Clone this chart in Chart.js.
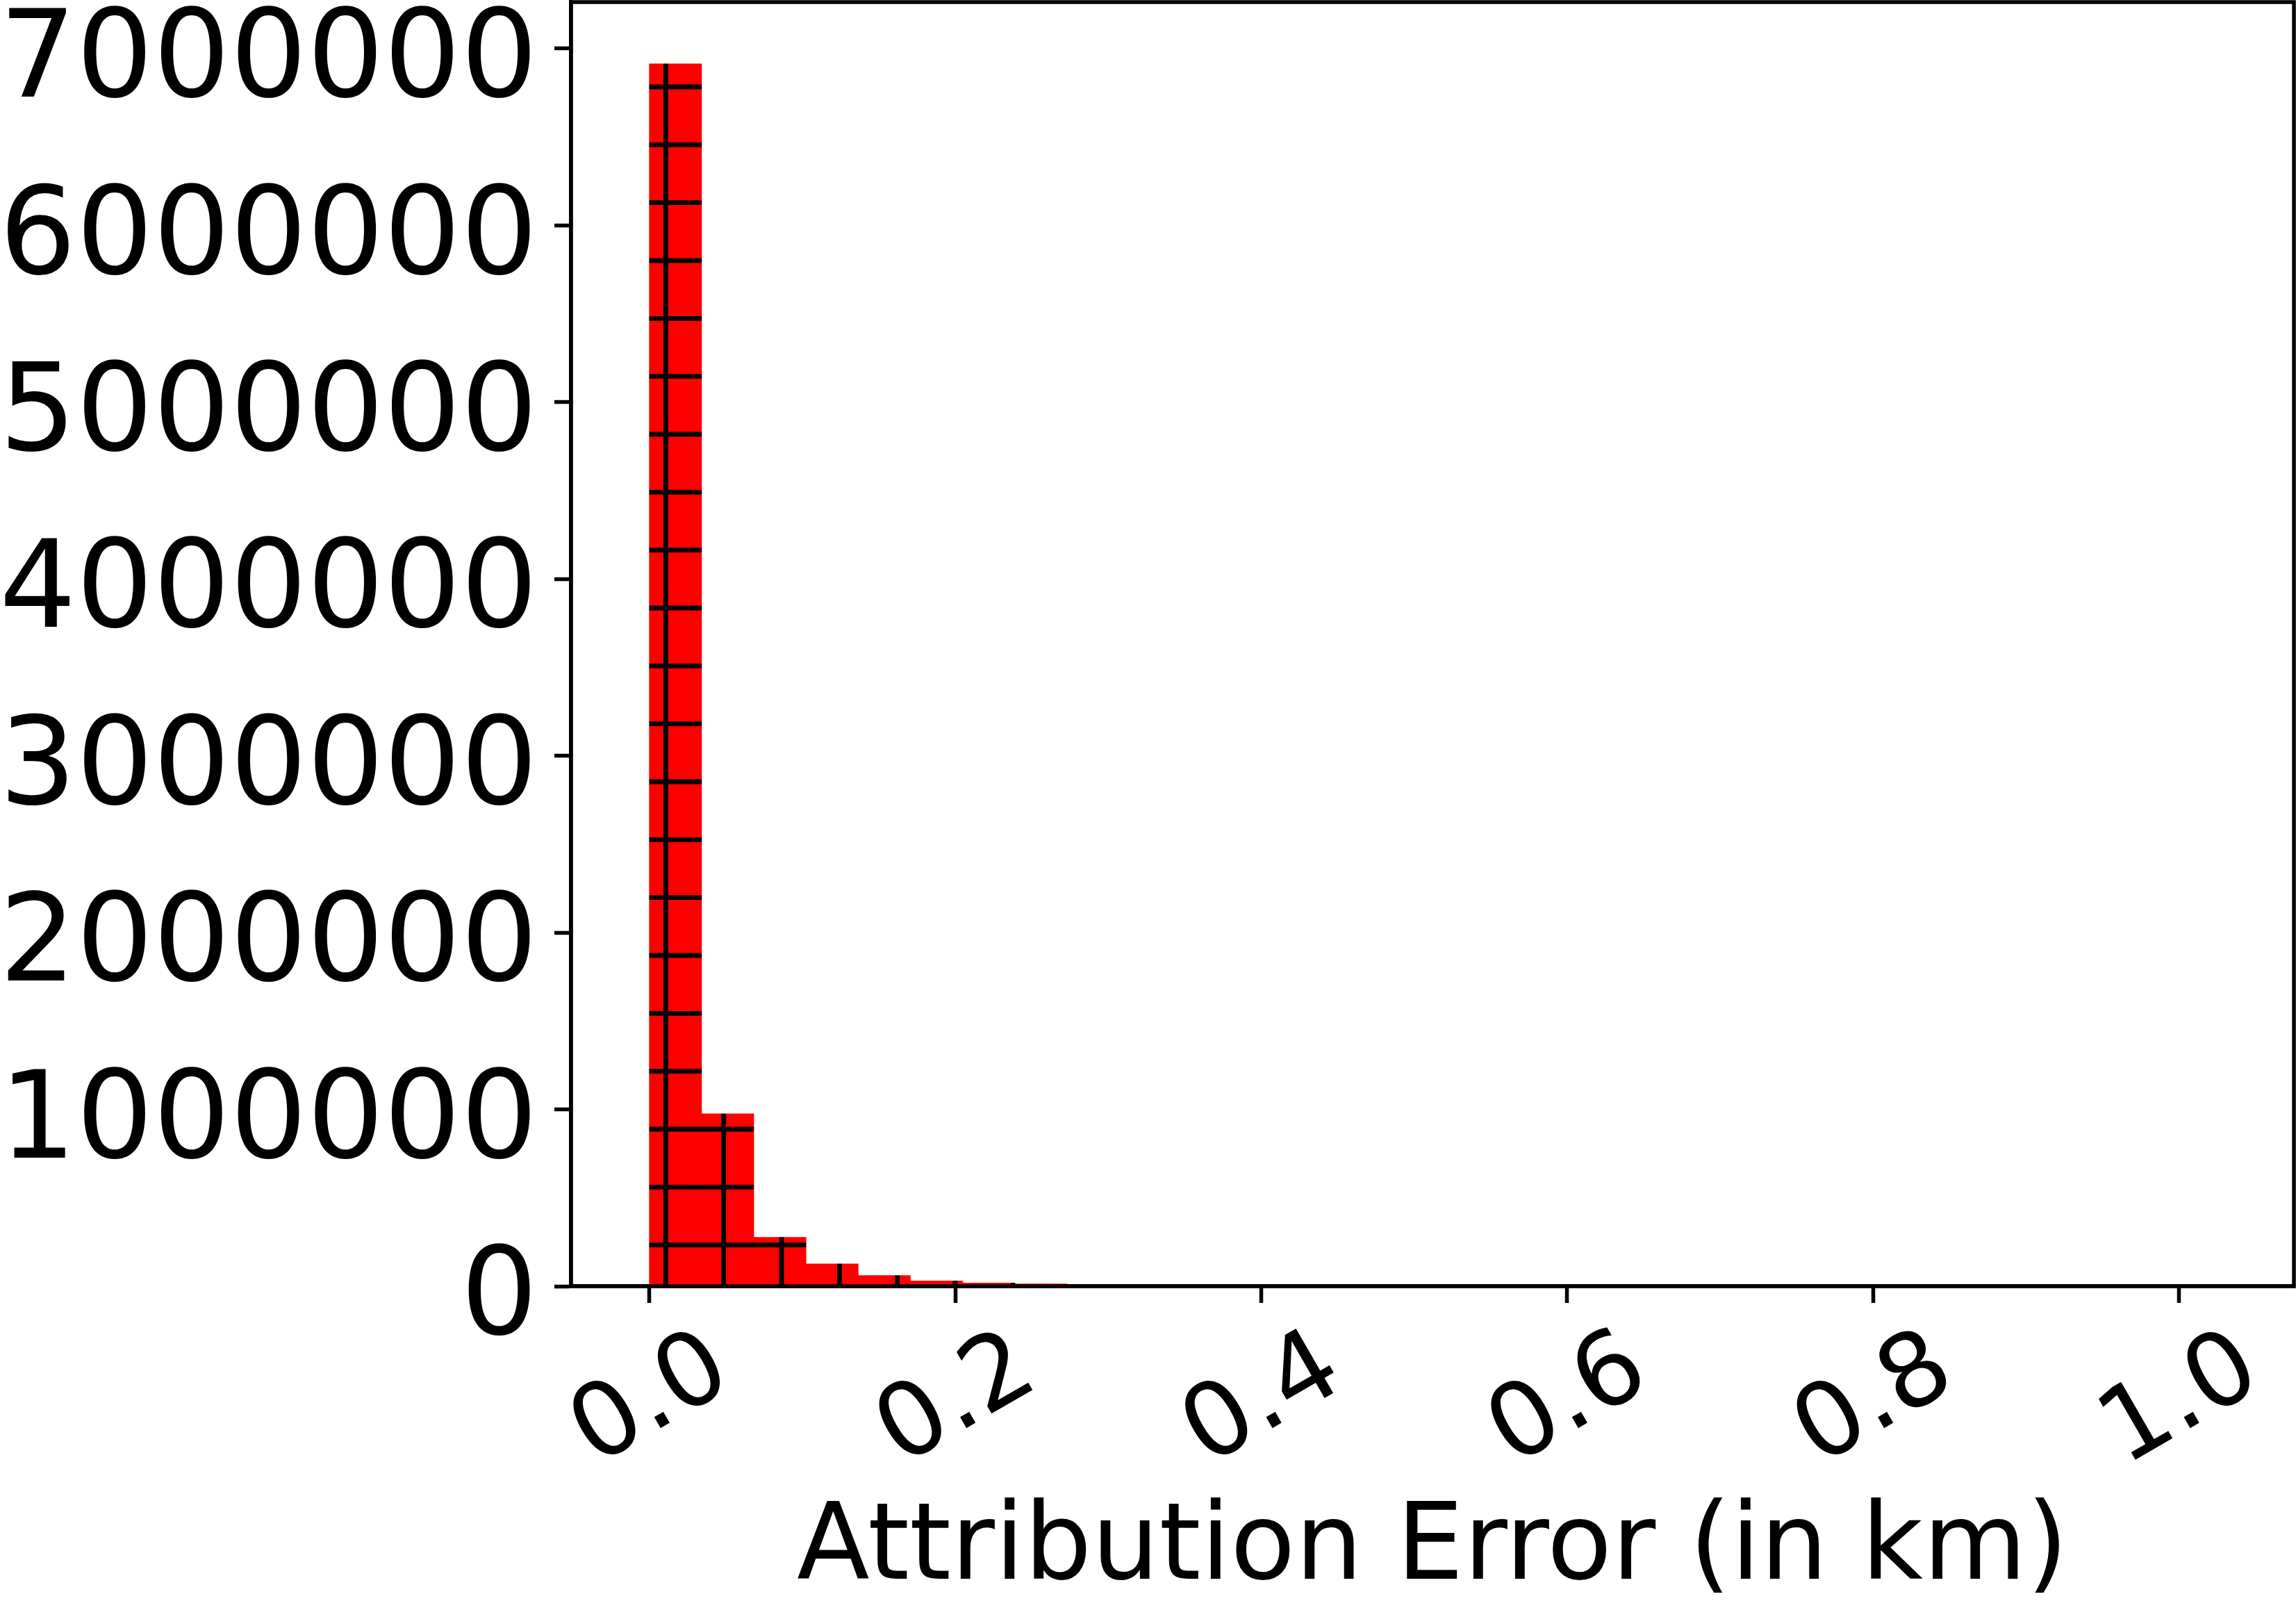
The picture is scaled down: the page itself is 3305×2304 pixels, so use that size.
<!DOCTYPE html>
<html>
<head>
<meta charset="utf-8">
<script src="https://cdn.jsdelivr.net/npm/chart.js@4.4.1/dist/chart.umd.min.js"></script>
<style>
  html, body { margin: 0; padding: 0; background: #fff; }
  canvas { display: block; }
</style>
</head>
<body>
<canvas id="hist" width="3305" height="2304"></canvas>
<script>
// histogram: 30 equal bins from 0 to ~1.024 km
const binStart = 0;
const binWidth = 1.024 / 30;
const counts = [6915000, 977000, 278000, 128000, 62000, 31000, 19700, 14500,
  7000, 4500, 3000, 2200, 1600, 1200, 900, 700, 500, 400, 300, 250,
  200, 150, 120, 100, 80, 60, 50, 40, 30, 20];
const xTicks = [0, 0.2, 0.4, 0.6, 0.8, 1.0];
const xTickLabels = ['0.0', '0.2', '0.4', '0.6', '0.8', '1.0'];
const yTicks = [0, 1000000, 2000000, 3000000, 4000000, 5000000, 6000000, 7000000];
const yMax = 7263000;
const xTitle = 'Attribution Error (in km)';

const FONT = '"DejaVu Sans", "Liberation Sans", sans-serif';
const YTICK_FS = 174;
const XTICK_FS = 147;
const TITLE_FS = 153;

// matplotlib style "+" hatch, 6 lines per inch at 500 dpi
const hatch = {
    id: 'hatch',
    afterDatasetsDraw(chart) {
        const ctx = chart.ctx;
        const step = 500 / 6, off = step / 2;
        ctx.save();
        ctx.strokeStyle = '#000';
        ctx.lineWidth = 6.9;
        chart.getDatasetMeta(0).data.forEach(bar => {
            const { x, y, base, width } = bar.getProps(['x', 'y', 'base', 'width'], true);
            const l = x - width / 2, r = x + width / 2;
            const t = Math.min(y, base), b = Math.max(y, base);
            if (b - t < 0.5) return;
            ctx.save();
            ctx.beginPath();
            ctx.rect(l, t, r - l, b - t);
            ctx.clip();
            ctx.beginPath();
            for (let k = Math.floor((l - off) / step) - 1; off + k * step <= r + 5; k++) {
                const gx = off + k * step;
                ctx.moveTo(gx, t);
                ctx.lineTo(gx, b);
            }
            for (let k = Math.floor((t - off) / step) - 1; off + k * step <= b + 5; k++) {
                const gy = off + k * step;
                ctx.moveTo(l, gy);
                ctx.lineTo(r, gy);
            }
            ctx.stroke();
            ctx.restore();
        });
        ctx.restore();
    }
};

// box around the axes, rotated x tick labels and the x title
const frame = {
    id: 'frame',
    afterDraw(chart) {
        const ctx = chart.ctx;
        const a = chart.chartArea;
        const xs = chart.scales.x;
        ctx.save();
        ctx.strokeStyle = '#000';
        ctx.lineWidth = 5.5;
        ctx.strokeRect(a.left, a.top, a.right - a.left, a.bottom - a.top);

        ctx.fillStyle = '#000';
        ctx.font = XTICK_FS + 'px ' + FONT;
        ctx.textAlign = 'center';
        ctx.textBaseline = 'alphabetic';
        xTicks.forEach((v, i) => {
            const px = xs.getPixelForValue(v);
            ctx.save();
            ctx.translate(px - 4, 2005);
            ctx.rotate(-Math.PI / 6);
            ctx.fillText(xTickLabels[i], 0, XTICK_FS * 0.364);
            ctx.restore();
        });

        ctx.font = TITLE_FS + 'px ' + FONT;
        ctx.fillText(xTitle, (a.left + a.right) / 2, 2272);
        ctx.restore();
    }
};

new Chart(document.getElementById('hist'), {
    type: 'bar',
    data: {
        datasets: [{
            label: 'count',
            data: counts.map((c, i) => ({ x: binStart + (i + 0.5) * binWidth, y: c })),
            backgroundColor: '#ff0000',
            borderWidth: 0,
            barPercentage: 1.01,
            categoryPercentage: 1
        }]
    },
    options: {
        responsive: false,
        animation: false,
        devicePixelRatio: 1,
        layout: { padding: { top: 3, right: 3, left: 0, bottom: 0 } },
        plugins: {
            legend: { display: false },
            tooltip: { enabled: false }
        },
        scales: {
            x: {
                type: 'linear',
                offset: false,
                min: -0.0512,
                max: 1.0752,
                grid: {
                    offset: false,
                    drawOnChartArea: false,
                    drawTicks: true,
                    tickLength: 24,
                    tickWidth: 5.5,
                    color: '#000'
                },
                border: { display: true, color: '#000', width: 5.5 },
                ticks: {
                    autoSkip: false,
                    maxRotation: 0,
                    color: 'rgba(0,0,0,0)',
                    font: { size: 10 }
                },
                afterBuildTicks: scale => { scale.ticks = xTicks.map(v => ({ value: v })); },
                afterFit: scale => {
                    scale.height = 453;
                    scale.paddingLeft = 0;
                    scale.paddingRight = 0;
                }
            },
            y: {
                min: 0,
                max: yMax,
                grid: {
                    drawOnChartArea: false,
                    drawTicks: true,
                    tickLength: 24,
                    tickWidth: 5.5,
                    color: '#000'
                },
                border: { display: true, color: '#000', width: 5.5 },
                ticks: {
                    autoSkip: false,
                    padding: 24,
                    labelOffset: 24,
                    color: '#000',
                    font: { family: FONT, size: YTICK_FS },
                    callback: v => String(v)
                },
                afterBuildTicks: scale => { scale.ticks = yTicks.map(v => ({ value: v })); },
                afterFit: scale => {
                    scale.width = 822;
                    scale.paddingTop = 0;
                    scale.paddingBottom = 0;
                }
            }
        }
    },
    plugins: [hatch, frame]
});
</script>
</body>
</html>
